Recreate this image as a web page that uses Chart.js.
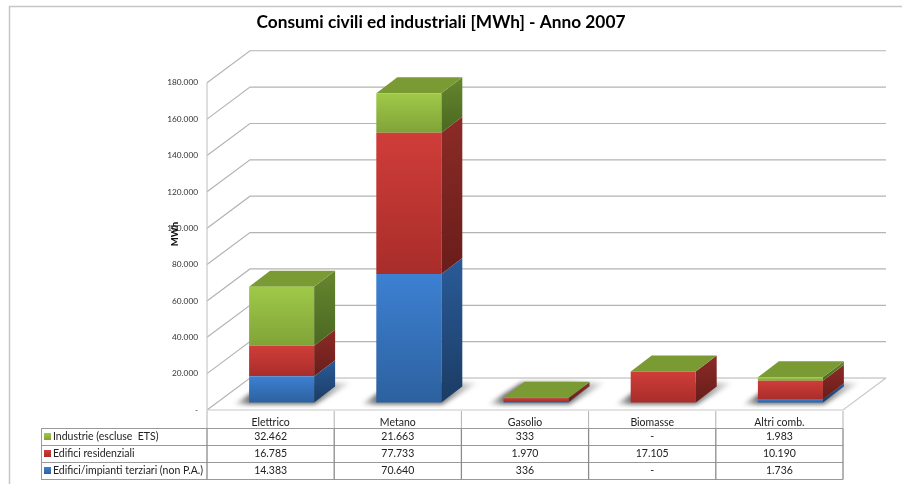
<!DOCTYPE html>
<html>
<head>
<meta charset="utf-8">
<title>Consumi civili ed industriali</title>
<script src="https://cdn.jsdelivr.net/npm/chart.js@4/dist/chart.umd.js"></script>
<style>
  html, body { margin: 0; padding: 0; background: #fff; }
  canvas { display: block; }
</style>
</head>
<body>
<canvas id="c" width="902" height="484"></canvas>
<script>
const categories = ["Elettrico", "Metano", "Gasolio", "Biomasse", "Altri comb."];
const terziari = [14383, 70640, 336, 0, 1736];
const residenziali = [16785, 77733, 1970, 17105, 10190];
const industrie = [32462, 21663, 333, 0, 1983];
const seriesNames = ["Edifici/impianti terziari (non P.A.)", "Edifici residenziali", "Industrie (escluse  ETS)"];

// front top, front bottom, side top, side bottom
const blue = ["#3d80d2", "#2c619f", "#2a5b98", "#1b3c64"];
const red = ["#d03d39", "#a82d2a", "#8c2b27", "#691d1a"];
const green = ["#a0c948", "#80a338", "#66862f", "#4b6821"];
const palette = [blue, red, green];
const roofColor = "#7a9a34";
const font = "Lato, sans-serif";

// depth of the room and where the bars sit inside it
const wall = { dx: 43, dy: -32 };
const bar3d = { dx: 21, dy: -16, shiftX: 11, shiftY: -7.5 };

const fmt = v => v === 0 ? "-" : String(v).replace(/\B(?=(\d{3})+$)/g, ".");

function frontFill(ctx) {
  const { chart, datasetIndex, dataIndex } = ctx;
  const y = chart.scales.y;
  if (!y || dataIndex === undefined) return palette[datasetIndex][0];
  let start = 0;
  for (let i = 0; i < datasetIndex; i++) start += chart.data.datasets[i].data[dataIndex];
  const v = chart.data.datasets[datasetIndex].data[dataIndex];
  const y0 = y.getPixelForValue(start + v), y1 = y.getPixelForValue(start);
  if (!isFinite(y0) || !isFinite(y1)) return palette[datasetIndex][0];
  const g = chart.ctx.createLinearGradient(0, y0, 0, y1 + 0.01);
  g.addColorStop(0, palette[datasetIndex][0]);
  g.addColorStop(1, palette[datasetIndex][1]);
  return g;
}

function poly(ctx, pts, fill) {
  ctx.beginPath();
  pts.forEach((p, i) => i ? ctx.lineTo(p[0], p[1]) : ctx.moveTo(p[0], p[1]));
  ctx.closePath();
  ctx.fillStyle = fill;
  ctx.fill();
}

const room = {
  id: "room",
  beforeDatasetsDraw(chart) {
    const { ctx, chartArea: a, scales: { y } } = chart;
    ctx.save();
    // outer frame of the picture
    ctx.strokeStyle = "#c6c6c6";
    ctx.lineWidth = 1.5;
    ctx.beginPath();
    ctx.moveTo(9.5, 484);
    ctx.lineTo(9.5, 6.5);
    ctx.lineTo(902, 6.5);
    ctx.stroke();

    // walls and floor
    ctx.lineWidth = 1.2;
    ctx.strokeStyle = "#b4b4b4";
    y.ticks.forEach(t => {
      const py = y.getPixelForValue(t.value);
      ctx.beginPath();
      ctx.moveTo(a.left, py);
      ctx.lineTo(a.left + wall.dx, py + wall.dy);
      ctx.lineTo(a.right + wall.dx, py + wall.dy);
      ctx.stroke();
    });
    ctx.strokeStyle = "#c8c8c8";
    ctx.beginPath();
    ctx.moveTo(a.left, y.getPixelForValue(y.max));
    ctx.lineTo(a.left, a.bottom);
    ctx.lineTo(a.right, a.bottom);
    ctx.lineTo(a.right + wall.dx, a.bottom + wall.dy);
    ctx.stroke();

    // shadows, side faces and roofs come from the bars that Chart.js laid out
    const metas = chart.data.datasets.map((d, i) => chart.getDatasetMeta(i));
    categories.forEach((c, j) => {
      const first = metas[0].data[j];
      const x0 = first.x - first.width / 2 + bar3d.shiftX;
      const x1 = x0 + first.width;
      const base = first.base + bar3d.shiftY;
      const sh = ctx.createLinearGradient(x0 - 16, 0, x1 + 38, 0);
      const l = 16 / (first.width + 54), r = (first.width + 16) / (first.width + 54);
      sh.addColorStop(0, "rgba(70,70,70,0)");
      sh.addColorStop(l, "rgba(70,70,70,.75)");
      sh.addColorStop(r, "rgba(70,70,70,.75)");
      sh.addColorStop(1, "rgba(70,70,70,0)");
      ctx.save();
      ctx.filter = "blur(2px)";
      poly(ctx, [[x0 - 16, base + 2], [x1 + 1, base + 2], [x1 + 38, base - 20], [x0 + 18, base - 20]], sh);
      ctx.restore();

      metas.forEach((m, i) => {
        const b = m.data[j];
        const top = b.y + bar3d.shiftY, bot = b.base + bar3d.shiftY;
        if (bot - top < 0.01) return;
        const g = ctx.createLinearGradient(0, top + bar3d.dy, 0, bot);
        g.addColorStop(0, palette[i][2]);
        g.addColorStop(1, palette[i][3]);
        poly(ctx, [[x1, top], [x1 + bar3d.dx, top + bar3d.dy], [x1 + bar3d.dx, bot + bar3d.dy], [x1, bot]], g);
      });
      const roofY = metas[metas.length - 1].data[j].y + bar3d.shiftY;
      poly(ctx, [[x0, roofY], [x0 + bar3d.dx, roofY + bar3d.dy], [x1 + bar3d.dx, roofY + bar3d.dy], [x1, roofY]], roofColor);
    });
    ctx.restore();

    // the fronts are drawn by Chart.js, pushed into the room
    ctx.save();
    ctx.translate(bar3d.shiftX, bar3d.shiftY);
  },
  afterDatasetsDraw(chart) {
    const { ctx, chartArea: a, scales: { x } } = chart;
    ctx.restore();
    ctx.save();

    // axis name sits on top of the 100.000 label in the original
    ctx.translate(175, 234);
    ctx.rotate(-Math.PI / 2);
    ctx.fillStyle = "#111";
    ctx.font = "900 9.5px " + font;
    ctx.textAlign = "center";
    ctx.textBaseline = "middle";
    ctx.fillText("MWh", 0, 0);
    ctx.restore();

    // data table under the plot
    const rowY = [428.5, 445.5, 462.5, 479.5];
    const left = 41;
    const colX = x.ticks.map((t, i) => x.getPixelForTick(i) - (x.getPixelForTick(1) - x.getPixelForTick(0)) / 2);
    colX.push(a.right);
    ctx.save();
    ctx.strokeStyle = "#9a9a9a";
    ctx.lineWidth = 1;
    rowY.forEach(py => {
      ctx.beginPath();
      ctx.moveTo(left, py);
      ctx.lineTo(a.right, py);
      ctx.stroke();
    });
    ctx.beginPath();
    ctx.moveTo(left + 0.5, rowY[0]);
    ctx.lineTo(left + 0.5, rowY[3]);
    ctx.stroke();
    colX.forEach(cx => {
      ctx.strokeStyle = "#b0b0b0";
      ctx.beginPath();
      ctx.moveTo(cx, a.bottom + 1);
      ctx.lineTo(cx, rowY[0]);
      ctx.stroke();
      ctx.strokeStyle = "#8c8c8c";
      ctx.lineWidth = 1.3;
      ctx.beginPath();
      ctx.moveTo(cx, rowY[0]);
      ctx.lineTo(cx, rowY[3]);
      ctx.stroke();
      ctx.lineWidth = 1;
    });

    ctx.font = "10.5px " + font;
    ctx.textBaseline = "middle";
    ctx.fillStyle = "#222";
    const rows = [industrie, residenziali, terziari];
    const rowNames = [seriesNames[2], seriesNames[1], seriesNames[0]];
    const rowPal = [green, red, blue];
    rows.forEach((vals, r) => {
      const cy = (rowY[r] + rowY[r + 1]) / 2;
      const k = ctx.createLinearGradient(0, cy - 4, 0, cy + 3);
      k.addColorStop(0, rowPal[r][0]);
      k.addColorStop(1, rowPal[r][1]);
      ctx.fillStyle = k;
      ctx.fillRect(44, cy - 4, 7, 7);
      ctx.fillStyle = "#222";
      ctx.textAlign = "left";
      ctx.fillText(rowNames[r], 53, cy);
      ctx.textAlign = "center";
      vals.forEach((v, j) => ctx.fillText(fmt(v), x.getPixelForTick(j), cy));
    });
    ctx.restore();
  }
};

const values = [terziari, residenziali, industrie];

new Chart(document.getElementById("c"), {
  type: "bar",
  data: {
    labels: categories,
    datasets: values.map((vals, i) => ({
      label: seriesNames[i],
      data: vals,
      backgroundColor: frontFill,
      borderWidth: 0,
      clip: false,
      barPercentage: 0.511,
      categoryPercentage: 1
    }))
  },
  options: {
    responsive: false,
    animation: false,
    layout: { padding: { left: 39, right: 59, top: 0, bottom: 0 } },
    plugins: {
      legend: { display: false },
      tooltip: { enabled: false },
      title: {
        display: true,
        text: "Consumi civili ed industriali [MWh] - Anno 2007",
        color: "#000",
        font: { family: font, size: 17.3, weight: "bold" },
        padding: { top: 12, bottom: 50 }
      }
    },
    scales: {
      x: {
        stacked: true,
        grid: { display: false, drawTicks: false },
        border: { display: false },
        afterFit: s => { s.height = 74; },
        ticks: { color: "#222", padding: 6, font: { family: font, size: 10.5 } }
      },
      y: {
        stacked: true,
        min: 0,
        max: 180000,
        grid: { display: false, drawTicks: false },
        border: { display: false },
        afterFit: s => { s.width = 168; },
        ticks: { stepSize: 20000, color: "#333", padding: 9, font: { family: font, size: 8.3 }, callback: fmt }
      }
    }
  },
  plugins: [room]
});
</script>
</body>
</html>
